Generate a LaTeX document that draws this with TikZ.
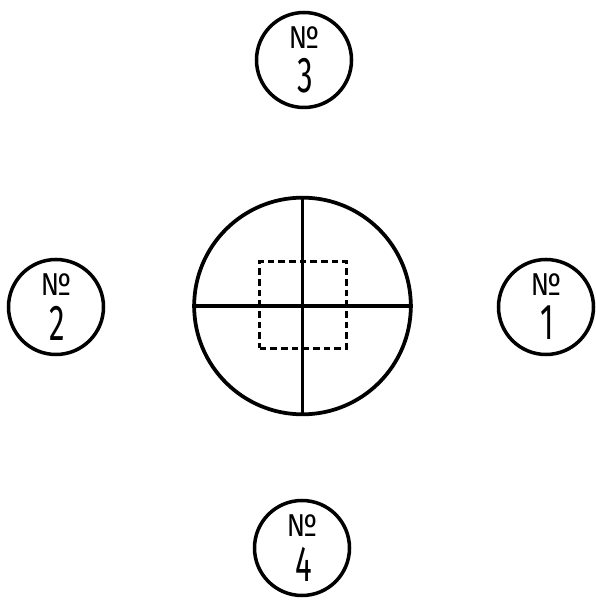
\documentclass[tikz,border=0pt]{standalone}
\usepackage{fontspec}
\usetikzlibrary{positioning}
\newfontfamily\numfont[FakeStretch=0.62]{Fira Sans}
\newfontfamily\signfont[FakeStretch=0.85]{Fira Sans}
\tikzset{
  field/.style   ={circle,draw,line width=3.2pt,minimum size=6.5cm,inner sep=0pt},
  crossline/.style={line width=2.8pt},
  zone/.style    ={rectangle,draw,line width=2.8pt,dash pattern=on 2mm off 1.2mm,minimum size=2.6cm,inner sep=0pt},
  ring/.style    ={circle,draw,line width=3pt,minimum size=2.85cm,inner sep=0pt},
  nosign/.style  ={inner sep=0pt,font=\signfont\fontsize{27}{27}\selectfont},
  digit/.style   ={inner sep=0pt,font=\numfont\fontsize{43}{43}\selectfont},
}
\begin{document}
\begin{tikzpicture}[x=0.03cm,y=0.03cm]
  \useasboundingbox (0,0) rectangle (596,603);
  \node[field] (fld) at (302.5,297){};
  \draw[crossline] (fld.north)--(fld.south);
  \draw[crossline] (fld.west)--(fld.east);
  \node[zone] (zn) at (303,298){};   % dashed square in the middle
  \foreach \nm/\x/\y/\num in {n1/546/296/1, n2/56/296/2, n3/304/543/3, n4/302/55/4}{
    \node[ring] (\nm) at (\x,\y){};
    \node[nosign] (\nm s) at ([yshift=0.68cm]\nm.center){№};
    \node[digit] (\nm d) at ([xshift=0.04cm,yshift=-0.48cm]\nm.center){\num};
  }
\end{tikzpicture}
\end{document}
